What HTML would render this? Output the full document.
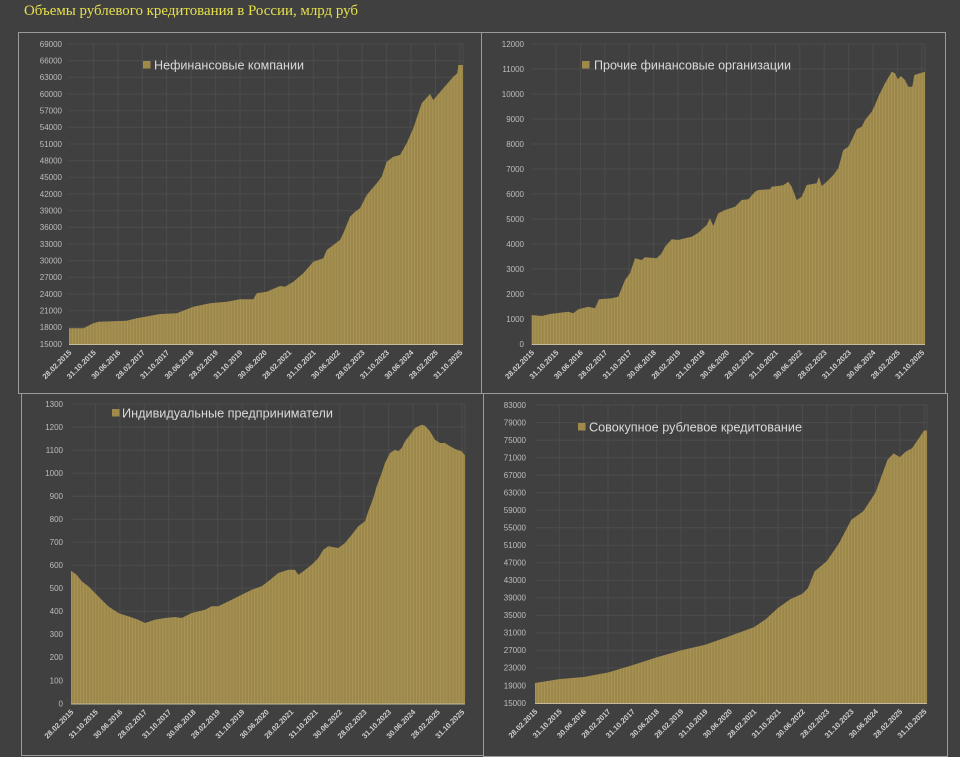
<!DOCTYPE html>
<html><head><meta charset="utf-8"><style>
html,body{margin:0;padding:0;background:#404040;}
svg{display:block;}
.t{font-family:"Liberation Sans",sans-serif;font-size:8px;fill:#bdbdbd;text-anchor:end;}
.x{font-family:"Liberation Sans",sans-serif;font-size:7.5px;font-weight:bold;fill:#cfcfcf;text-anchor:end;}
.lg{font-family:"Liberation Sans","Noto Sans CJK SC",sans-serif;font-size:12.5px;fill:#dadada;}
.g{stroke:#4c4c4c;stroke-width:1;fill:none;}
</style></head><body>
<svg width="960" height="757" viewBox="0 0 960 757" xmlns="http://www.w3.org/2000/svg">
<defs>
<pattern id="p1" patternUnits="userSpaceOnUse" x="69" y="0" width="3.054" height="10"><rect width="3.054" height="10" fill="#9d884b"/><rect width="0.6" height="10" fill="#b09b5c"/></pattern>
<pattern id="p2" patternUnits="userSpaceOnUse" x="531.7" y="0" width="3.047" height="10"><rect width="3.047" height="10" fill="#9d884b"/><rect width="0.6" height="10" fill="#b09b5c"/></pattern>
<pattern id="p3" patternUnits="userSpaceOnUse" x="71" y="0" width="3.054" height="10"><rect width="3.054" height="10" fill="#9d884b"/><rect width="0.6" height="10" fill="#b09b5c"/></pattern>
<pattern id="p4" patternUnits="userSpaceOnUse" x="535" y="0" width="3.04" height="10"><rect width="3.04" height="10" fill="#9d884b"/><rect width="0.6" height="10" fill="#b09b5c"/></pattern>
</defs>
<rect width="960" height="757" fill="#404040"/>
<text x="24" y="15" font-family="'Liberation Serif','Noto Serif CJK SC',serif" font-size="15" fill="#e6e04c" textLength="334" lengthAdjust="spacingAndGlyphs">Объемы рублевого кредитования в России, млрд руб</text>

<!-- panel borders -->
<g fill="none" stroke="#9a9a9a" stroke-width="1">
<rect x="18.5" y="32.5" width="463" height="361"/>
<rect x="481.5" y="32.5" width="464" height="361"/>
<rect x="21.5" y="393.5" width="462" height="362"/>
<rect x="483.5" y="393.5" width="464" height="363"/>
</g>

<!-- ===== Panel 1 ===== -->
<path class="g" d="M69 44H463M69 60.7H463M69 77.3H463M69 94H463M69 110.7H463M69 127.3H463M69 144H463M69 160.7H463M69 177.3H463M69 194H463M69 210.7H463M69 227.3H463M69 244H463M69 260.7H463M69 277.3H463M69 294H463M69 310.7H463M69 327.3H463M93.4 44V344M117.9 44V344M142.3 44V344M166.7 44V344M191.2 44V344M215.6 44V344M240 44V344M264.5 44V344M288.9 44V344M313.3 44V344M337.8 44V344M362.2 44V344M386.6 44V344M411 44V344M435.5 44V344M459.9 44V344M463 44V344"/>
<polygon fill="url(#p1)" points="69,344 69,328.3 83.3,328.3 93.3,323.3 98.3,321.7 126.7,320.7 136.7,318.3 160,314 176.7,313.3 193.3,306.7 210,303.3 226.7,301.7 240,299.3 253.3,299.3 256.7,293.3 266.7,291.7 280,286 285,286.7 293.3,281.7 303.3,273.3 313.3,261.7 323.3,258.3 326.7,250 340,240 343.3,233.3 350,216.7 355,211.7 360,208.3 366.7,195 376.7,183.3 381.7,176.7 386.7,161.7 393.3,156.7 400,155 406.7,143.3 413.3,128.3 421.7,103.3 430,94 433.3,100 443.3,88.3 453.3,76.7 457.3,73.3 458.3,65 463,65 463,344"/>
<line x1="69" y1="344.5" x2="463" y2="344.5" stroke="#c4bc9c" stroke-width="1"/>
<g class="t">
<text x="62" y="46.8">69000</text><text x="62" y="63.5">66000</text><text x="62" y="80.1">63000</text><text x="62" y="96.8">60000</text><text x="62" y="113.5">57000</text><text x="62" y="130.1">54000</text><text x="62" y="146.8">51000</text><text x="62" y="163.5">48000</text><text x="62" y="180.1">45000</text><text x="62" y="196.8">42000</text><text x="62" y="213.5">39000</text><text x="62" y="230.1">36000</text><text x="62" y="246.8">33000</text><text x="62" y="263.5">30000</text><text x="62" y="280.1">27000</text><text x="62" y="296.8">24000</text><text x="62" y="313.5">21000</text><text x="62" y="330.1">18000</text><text x="62" y="346.8">15000</text>
</g>
<g class="x">
<text transform="translate(72,353) rotate(-45)">28.02.2015</text>
<text transform="translate(96.4,353) rotate(-45)">31.10.2015</text>
<text transform="translate(120.9,353) rotate(-45)">30.06.2016</text>
<text transform="translate(145.3,353) rotate(-45)">28.02.2017</text>
<text transform="translate(169.7,353) rotate(-45)">31.10.2017</text>
<text transform="translate(194.2,353) rotate(-45)">30.06.2018</text>
<text transform="translate(218.6,353) rotate(-45)">28.02.2019</text>
<text transform="translate(243,353) rotate(-45)">31.10.2019</text>
<text transform="translate(267.4,353) rotate(-45)">30.06.2020</text>
<text transform="translate(291.9,353) rotate(-45)">28.02.2021</text>
<text transform="translate(316.3,353) rotate(-45)">31.10.2021</text>
<text transform="translate(340.7,353) rotate(-45)">30.06.2022</text>
<text transform="translate(365.2,353) rotate(-45)">28.02.2023</text>
<text transform="translate(389.6,353) rotate(-45)">31.10.2023</text>
<text transform="translate(414,353) rotate(-45)">30.06.2024</text>
<text transform="translate(438.5,353) rotate(-45)">28.02.2025</text>
<text transform="translate(462.9,353) rotate(-45)">31.10.2025</text>
</g>
<rect x="143" y="61" width="7.5" height="7.5" fill="#a08a4b"/>
<text class="lg" x="154" y="69.5" textLength="150" lengthAdjust="spacingAndGlyphs">Нефинансовые компании</text>

<!-- ===== Panel 2 ===== -->
<path class="g" d="M531.7 44H925M531.7 69H925M531.7 94H925M531.7 119H925M531.7 144H925M531.7 169H925M531.7 194H925M531.7 219H925M531.7 244H925M531.7 269H925M531.7 294H925M531.7 319H925M556.1 44V344M580.5 44V344M604.8 44V344M629.2 44V344M653.6 44V344M678 44V344M702.4 44V344M726.7 44V344M751.1 44V344M775.5 44V344M799.9 44V344M824.2 44V344M848.6 44V344M873 44V344M897.4 44V344M921.8 44V344M925 44V344"/>
<polygon fill="url(#p2)" points="531.7,344 531.7,315 541.7,316 550,314 568.3,311.7 573.3,313.3 578.3,309.3 588.3,306.7 595,308.3 599,299.3 611.7,298.3 618.3,296.7 621.7,288.3 625,280 630,273.3 635,258.3 641.7,260 645,257.3 656.7,258.3 661.7,253.3 665,246.7 671.7,239.3 678.3,240 685,238.3 691.7,236.7 698.3,232.7 706.7,225 710,218.3 713.3,226 718.3,213.3 725,210 735,206.7 741.7,200 748.3,199.3 755,191.7 758.3,190 770,189.3 771.7,186.7 783.3,185.3 788.3,181.7 791.7,186.7 796.7,200 801.7,196.7 806.7,185 816.7,183.3 819,176.7 821.7,186 826.7,181.7 833.3,175 838.3,168.3 843.3,150 848.3,146.7 853.3,136.7 856.7,129.3 861.7,126.7 865,120 871.7,111.7 875,105 878.3,96.7 885,83.3 891.7,71.7 895,73.3 897.7,79.3 901,76 905,80 908.3,86.7 912.3,86.7 914.3,75 920,73.3 925,71.7 925,344"/>
<line x1="531.7" y1="344.5" x2="925" y2="344.5" stroke="#c4bc9c" stroke-width="1"/>
<g class="t">
<text x="524" y="46.8">12000</text><text x="524" y="71.8">11000</text><text x="524" y="96.8">10000</text><text x="524" y="121.8">9000</text><text x="524" y="146.8">8000</text><text x="524" y="171.8">7000</text><text x="524" y="196.8">6000</text><text x="524" y="221.8">5000</text><text x="524" y="246.8">4000</text><text x="524" y="271.8">3000</text><text x="524" y="296.8">2000</text><text x="524" y="321.8">1000</text><text x="524" y="346.8">0</text>
</g>
<g class="x">
<text transform="translate(534.7,353) rotate(-45)">28.02.2015</text>
<text transform="translate(559.1,353) rotate(-45)">31.10.2015</text>
<text transform="translate(583.5,353) rotate(-45)">30.06.2016</text>
<text transform="translate(607.8,353) rotate(-45)">28.02.2017</text>
<text transform="translate(632.2,353) rotate(-45)">31.10.2017</text>
<text transform="translate(656.6,353) rotate(-45)">30.06.2018</text>
<text transform="translate(681,353) rotate(-45)">28.02.2019</text>
<text transform="translate(705.4,353) rotate(-45)">31.10.2019</text>
<text transform="translate(729.7,353) rotate(-45)">30.06.2020</text>
<text transform="translate(754.1,353) rotate(-45)">28.02.2021</text>
<text transform="translate(778.5,353) rotate(-45)">31.10.2021</text>
<text transform="translate(802.9,353) rotate(-45)">30.06.2022</text>
<text transform="translate(827.3,353) rotate(-45)">28.02.2023</text>
<text transform="translate(851.6,353) rotate(-45)">31.10.2023</text>
<text transform="translate(876,353) rotate(-45)">30.06.2024</text>
<text transform="translate(900.4,353) rotate(-45)">28.02.2025</text>
<text transform="translate(924.8,353) rotate(-45)">31.10.2025</text>
</g>
<rect x="582" y="61" width="7.5" height="7.5" fill="#a08a4b"/>
<text class="lg" x="594" y="69.5" textLength="197" lengthAdjust="spacingAndGlyphs">Прочие финансовые организации</text>

<!-- ===== Panel 3 ===== -->
<path class="g" d="M71 404H465M71 427H465M71 450.1H465M71 473.1H465M71 496.2H465M71 519.2H465M71 542.2H465M71 565.3H465M71 588.3H465M71 611.4H465M71 634.4H465M71 657.4H465M71 680.5H465M95.4 404V703M119.9 404V703M144.3 404V703M168.7 404V703M193.2 404V703M217.6 404V703M242 404V703M266.5 404V703M290.9 404V703M315.3 404V703M339.8 404V703M364.2 404V703M388.6 404V703M413 404V703M437.5 404V703M461.9 404V703M465 404V703"/>
<polygon fill="url(#p3)" points="71,703.5 71,570.7 76.7,574.7 81.7,581.3 88.3,586.3 95,593 101.7,599.7 108.3,606.3 118.3,613 128.3,616.3 138.3,619.7 145,623 155,619.7 165,618 175,617 181.7,618 191.7,613 205,609.7 211.7,606.3 218.3,606.3 231.7,599.7 241.7,594.7 251.7,589.7 261.7,586.3 268.3,581.3 278.3,573 288.3,569.7 295,569.7 298.3,574.7 303.3,571.3 311.7,564.7 318.3,558 323.3,549.7 328.3,546.3 338.3,548 345,543 351.7,534.7 358.3,526.3 365,521.3 368.3,511.3 373.3,498 376.7,486.3 381.7,473 385,463 390,453 395,449.7 398.3,451.3 401.7,448 405,441.3 410,434.7 415,428 421.7,424.7 425,425.7 430,431.3 435,439.7 440,443 445,443 450,446.3 456.7,449.7 461.7,451.3 464.3,454.7 465,454.7 465,703.5"/>
<line x1="71" y1="704" x2="465" y2="704" stroke="#c4bc9c" stroke-width="1"/>
<g class="t">
<text x="63" y="406.8">1300</text><text x="63" y="429.8">1200</text><text x="63" y="452.9">1100</text><text x="63" y="475.9">1000</text><text x="63" y="499">900</text><text x="63" y="522">800</text><text x="63" y="545">700</text><text x="63" y="568.1">600</text><text x="63" y="591.1">500</text><text x="63" y="614.2">400</text><text x="63" y="637.2">300</text><text x="63" y="660.2">200</text><text x="63" y="683.3">100</text><text x="63" y="706.3">0</text>
</g>
<g class="x">
<text transform="translate(74,712.5) rotate(-45)">28.02.2015</text>
<text transform="translate(98.4,712.5) rotate(-45)">31.10.2015</text>
<text transform="translate(122.9,712.5) rotate(-45)">30.06.2016</text>
<text transform="translate(147.3,712.5) rotate(-45)">28.02.2017</text>
<text transform="translate(171.7,712.5) rotate(-45)">31.10.2017</text>
<text transform="translate(196.2,712.5) rotate(-45)">30.06.2018</text>
<text transform="translate(220.6,712.5) rotate(-45)">28.02.2019</text>
<text transform="translate(245,712.5) rotate(-45)">31.10.2019</text>
<text transform="translate(269.4,712.5) rotate(-45)">30.06.2020</text>
<text transform="translate(293.9,712.5) rotate(-45)">28.02.2021</text>
<text transform="translate(318.3,712.5) rotate(-45)">31.10.2021</text>
<text transform="translate(342.7,712.5) rotate(-45)">30.06.2022</text>
<text transform="translate(367.2,712.5) rotate(-45)">28.02.2023</text>
<text transform="translate(391.6,712.5) rotate(-45)">31.10.2023</text>
<text transform="translate(416,712.5) rotate(-45)">30.06.2024</text>
<text transform="translate(440.5,712.5) rotate(-45)">28.02.2025</text>
<text transform="translate(464.9,712.5) rotate(-45)">31.10.2025</text>
</g>
<rect x="112" y="409" width="7.5" height="7.5" fill="#a08a4b"/>
<text class="lg" x="122" y="417.5" textLength="211" lengthAdjust="spacingAndGlyphs">Индивидуальные предприниматели</text>

<!-- ===== Panel 4 ===== -->
<path class="g" d="M535 405H927M535 422.5H927M535 440.1H927M535 457.6H927M535 475.1H927M535 492.7H927M535 510.2H927M535 527.7H927M535 545.2H927M535 562.8H927M535 580.3H927M535 597.8H927M535 615.4H927M535 632.9H927M535 650.4H927M535 667.9H927M535 685.5H927M559.3 405V703M583.6 405V703M608 405V703M632.3 405V703M656.6 405V703M680.9 405V703M705.2 405V703M729.6 405V703M753.9 405V703M778.2 405V703M802.5 405V703M826.8 405V703M851.2 405V703M875.5 405V703M899.8 405V703M924.1 405V703M927 405V703"/>
<polygon fill="url(#p4)" points="535,703 535,683 559.3,679.1 583.6,677 608,672.5 632.3,665.2 656.6,657.4 680.9,650.4 705.2,644.7 729.6,636.1 753.9,627.2 766,619 778.2,607.7 790.4,599.1 802.5,593.8 808,588 814.7,571.3 826.8,561.1 839,543.3 851.2,519.9 863.3,511.3 875.5,492.5 887.6,459.5 893.7,453.4 899.8,457.1 905.9,451.5 912,448.3 918,439.5 924.1,430.5 927,430.5 927,703"/>
<line x1="535" y1="703.5" x2="927" y2="703.5" stroke="#c4bc9c" stroke-width="1"/>
<g class="t">
<text x="526" y="407.8">83000</text><text x="526" y="425.3">79000</text><text x="526" y="442.9">75000</text><text x="526" y="460.4">71000</text><text x="526" y="477.9">67000</text><text x="526" y="495.5">63000</text><text x="526" y="513">59000</text><text x="526" y="530.5">55000</text><text x="526" y="548">51000</text><text x="526" y="565.6">47000</text><text x="526" y="583.1">43000</text><text x="526" y="600.6">39000</text><text x="526" y="618.2">35000</text><text x="526" y="635.7">31000</text><text x="526" y="653.2">27000</text><text x="526" y="670.7">23000</text><text x="526" y="688.3">19000</text><text x="526" y="705.8">15000</text>
</g>
<g class="x">
<text transform="translate(538,712) rotate(-45)">28.02.2015</text>
<text transform="translate(562.3,712) rotate(-45)">31.10.2015</text>
<text transform="translate(586.6,712) rotate(-45)">30.06.2016</text>
<text transform="translate(611,712) rotate(-45)">28.02.2017</text>
<text transform="translate(635.3,712) rotate(-45)">31.10.2017</text>
<text transform="translate(659.6,712) rotate(-45)">30.06.2018</text>
<text transform="translate(683.9,712) rotate(-45)">28.02.2019</text>
<text transform="translate(708.2,712) rotate(-45)">31.10.2019</text>
<text transform="translate(732.6,712) rotate(-45)">30.06.2020</text>
<text transform="translate(756.9,712) rotate(-45)">28.02.2021</text>
<text transform="translate(781.2,712) rotate(-45)">31.10.2021</text>
<text transform="translate(805.5,712) rotate(-45)">30.06.2022</text>
<text transform="translate(829.8,712) rotate(-45)">28.02.2023</text>
<text transform="translate(854.2,712) rotate(-45)">31.10.2023</text>
<text transform="translate(878.5,712) rotate(-45)">30.06.2024</text>
<text transform="translate(902.8,712) rotate(-45)">28.02.2025</text>
<text transform="translate(927.1,712) rotate(-45)">31.10.2025</text>
</g>
<rect x="578" y="423" width="7.5" height="7.5" fill="#a08a4b"/>
<text class="lg" x="589" y="431.5" textLength="213" lengthAdjust="spacingAndGlyphs">Совокупное рублевое кредитование</text>
</svg>
</body></html>
